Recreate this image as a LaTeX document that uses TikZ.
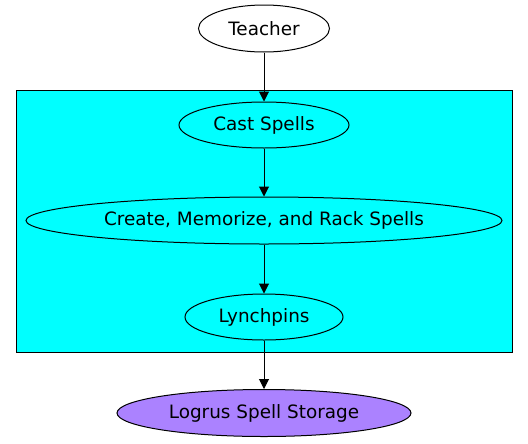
\documentclass[tikz,border=0pt]{standalone}
\usepackage{fontspec}
\setmainfont{DejaVu Sans}
\usetikzlibrary{positioning,shapes.geometric,arrows.meta}
\definecolor{ClusterCyan}{RGB}{0,255,255}
\definecolor{LogrusPurple}{RGB}{171,130,255}

\begin{document}
\begin{tikzpicture}[x=0.75pt,y=-0.75pt]
				\tikzset{
					v/.style={ellipse, draw=black, line width=0.75pt, fill=white,
						inner sep=0pt, font=\fontsize{13.8}{16}\selectfont},
					e/.style={-{Triangle[length=7.5pt,width=7.5pt]}, draw=black, line width=0.75pt},
					clu/.style={draw=black, line width=0.75pt, fill=ClusterCyan}
				}
				\useasboundingbox (0,0) rectangle (528,443);
				
				% ======= Cluster =======
				\draw[clu] (16,90) rectangle (512,352);
				
				% ======= Nodes =======
				\node[v, minimum width=98.25pt, minimum height=35.25pt] (teacher) at (264,28.5) {Teacher};
				\node[v, fill=ClusterCyan, minimum width=127.5pt, minimum height=34.5pt] (cast) at (264,125) {Cast Spells};
				\node[v, fill=ClusterCyan, minimum width=357pt, minimum height=35.25pt] (rack) at (264,220.5) {Create, Memorize, and Rack Spells};
				\node[v, fill=ClusterCyan, minimum width=118.5pt, minimum height=34.5pt] (lynch) at (264,317) {Lynchpins};
				\node[v, fill=LogrusPurple, minimum width=220.5pt, minimum height=35.25pt] (logrus) at (264,413) {Logrus Spell Storage};
				
				% ======= Edges =======
				\draw[e] (teacher) -- (cast);
				\draw[e] (cast) -- (rack);
				\draw[e] (rack) -- (lynch);
				\draw[e] (lynch) -- (logrus);
			\end{tikzpicture}
\end{document}
